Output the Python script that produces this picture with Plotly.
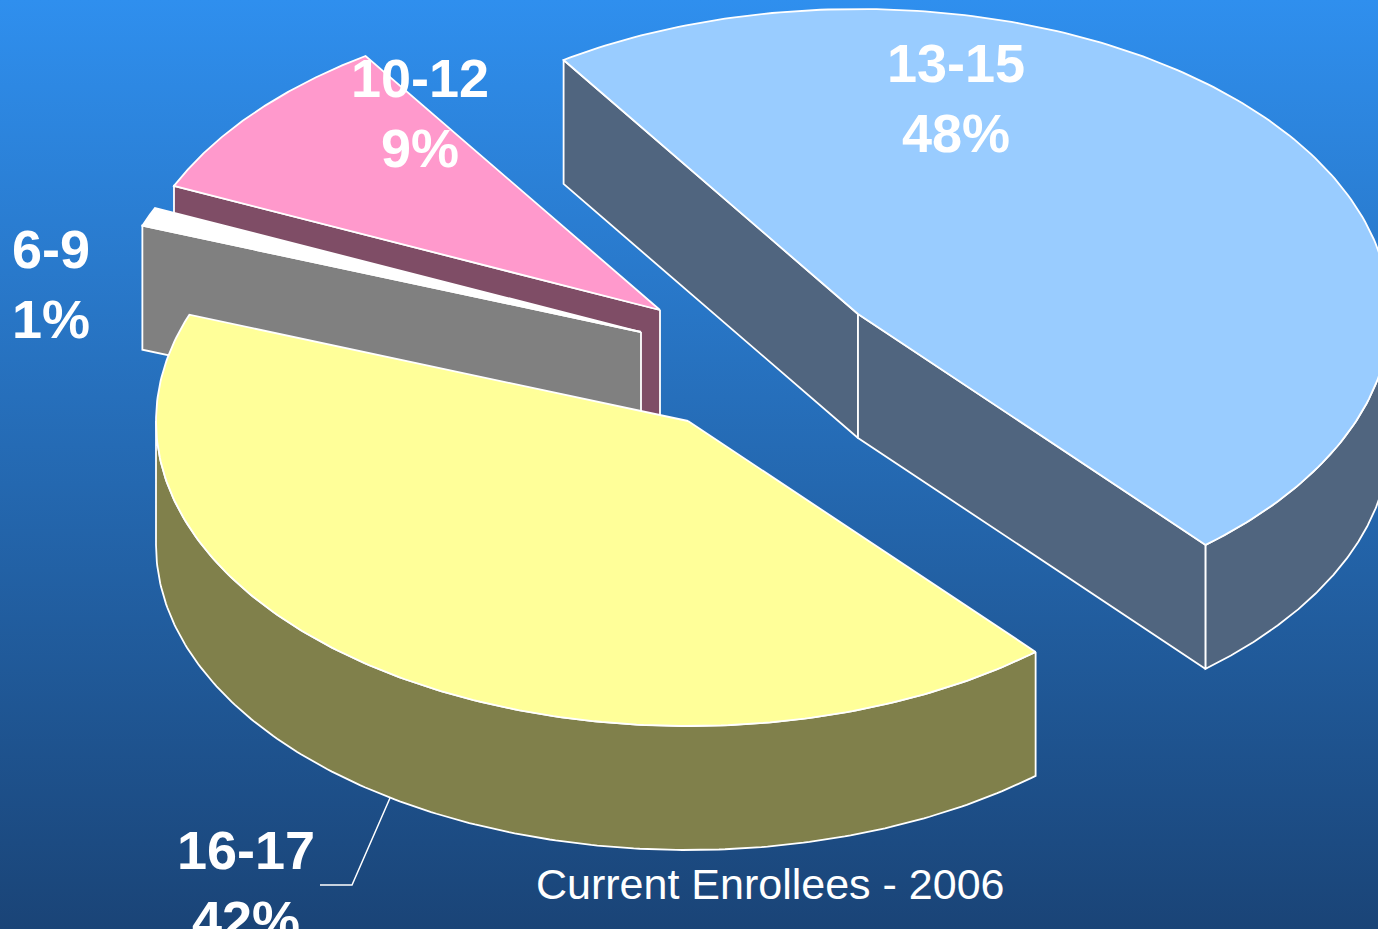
import numpy as np
import plotly.graph_objects as go

# data
categories = ['13-15', '16-17', '6-9', '10-12']
percents = [48, 42, 1, 9]
top_colors = ['#99ccff', '#ffff99', '#ffffff', '#ff99cc']
side_colors = ['#50657f', '#80804b', '#808080', '#7f4d66']
caption = 'Current Enrollees - 2006'

# pie geometry, in page pixels
W, H = 1378, 929
RX, RY = 532, 305
DEPTH = 124
START = -33.6
pivots = [(858, 314), (688, 421), (641, 332), (660, 310)]
draw_order = [0, 3, 2, 1]
label_pos = [(956, 98), (246, 885), (51, 284), (420, 113)]


def rim(cx, cy, t):
    t = np.radians(t)
    return cx + RX * np.sin(t), cy - RY * np.cos(t)


def poly(fig, x, y, color):
    fig.add_trace(go.Scatter(x=x, y=y, mode='lines', fill='toself', fillcolor=color,
                             line=dict(color='white', width=1.8), hoverinfo='skip', showlegend=False))


def add_slice(fig, i, t0, t1):
    cx, cy = pivots[i]
    # cut faces that look toward the viewer
    for t, visible in ((t0, np.sin(np.radians(t0)) < 0), (t1, np.sin(np.radians(t1)) > 0)):
        if visible:
            ex, ey = rim(cx, cy, t)
            poly(fig, [cx, ex, ex, cx, cx], [cy, ey, ey + DEPTH, cy + DEPTH, cy], side_colors[i])
    # outer wall, front half of the ellipse only
    lo, hi = max(t0, 90), min(t1, 270)
    if lo < hi:
        ts = np.linspace(lo, hi, 200)
        ax, ay = rim(cx, cy, ts)
        poly(fig, np.r_[ax, ax[::-1], ax[0]], np.r_[ay, ay[::-1] + DEPTH, ay[0]], side_colors[i])
    # top
    ts = np.linspace(t0, t1, 200)
    ax, ay = rim(cx, cy, ts)
    poly(fig, np.r_[cx, ax, cx], np.r_[cy, ay, cy], top_colors[i])


fig = go.Figure()

# background gradient
fig.add_trace(go.Scatter(x=[0, W, W, 0, 0], y=[0, 0, H, H, 0], mode='lines', line=dict(width=0),
                         fill='toself', hoverinfo='skip', showlegend=False,
                         fillgradient=dict(type='vertical', start=0, stop=H,
                                           colorscale=[[0, '#2f8fee'], [1, '#1a4477']])))

edges = START + np.cumsum([0] + percents) * 3.6
slices = {i: (edges[i], edges[i + 1]) for i in range(len(percents))}
for i in draw_order:
    add_slice(fig, i, *slices[i])

# leader line for 16-17
fig.add_trace(go.Scatter(x=[320, 352, 390], y=[885, 885, 798], mode='lines', line=dict(color='white', width=1.5),
                         hoverinfo='skip', showlegend=False))

for i, cat in enumerate(categories):
    fig.add_annotation(x=label_pos[i][0], y=label_pos[i][1], text=f'<b>{cat}<br>{percents[i]}%</b>', showarrow=False,
                       font=dict(family='Liberation Sans', size=54, color='white'))
fig.add_annotation(x=770, y=884, text=caption, showarrow=False,
                   font=dict(family='Liberation Sans', size=43, color='white'))

fig.update_xaxes(range=[0, W], visible=False)
fig.update_yaxes(range=[H, 0], visible=False)
fig.update_layout(width=W, height=H, margin=dict(l=0, r=0, t=0, b=0), paper_bgcolor='#1a4477',
                  plot_bgcolor='#1a4477')

fig.write_html('out.html', config=dict(displayModeBar=False), post_script="document.body.style.margin='0';")
